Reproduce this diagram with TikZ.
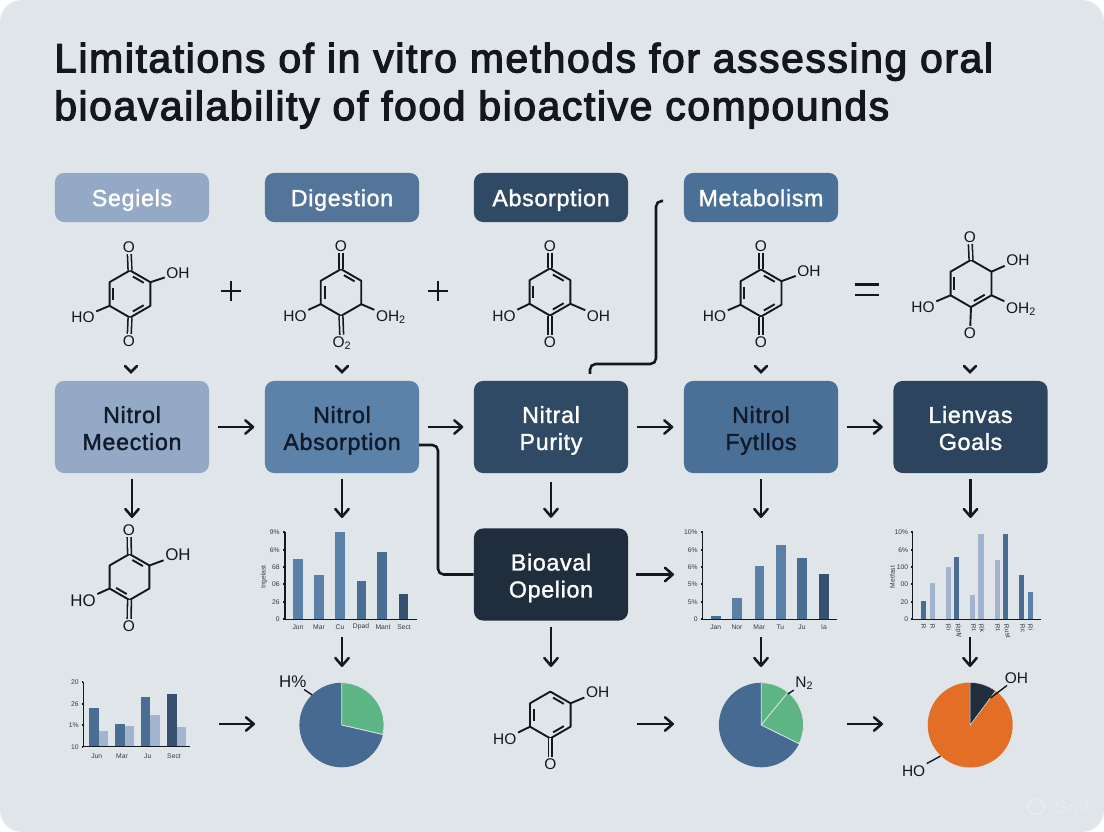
\documentclass[tikz,border=0pt]{standalone}
\usepackage{fontspec}
\setmainfont{Liberation Sans}
\newfontfamily\titlefont[FakeBold=3,LetterSpace=4]{Liberation Sans}
\newfontfamily\boxfont[FakeBold=1.5,LetterSpace=3]{Liberation Sans}
\usetikzlibrary{arrows.meta,calc}

\definecolor{bgc}{HTML}{E0E5E9}
\definecolor{inkc}{HTML}{14181C}
\definecolor{boxink}{HTML}{101A2A}
\definecolor{paleblue}{HTML}{93A9C6}
\definecolor{midblue}{HTML}{5C82AA}
\definecolor{steelblue}{HTML}{4B7098}
\definecolor{deepblue}{HTML}{304A66}
\definecolor{darknavy}{HTML}{1F2D3D}
\definecolor{barA}{HTML}{5A80A8}
\definecolor{barB}{HTML}{4A6D94}
\definecolor{barC}{HTML}{36516F}
\definecolor{barL}{HTML}{A3B4CE}
\definecolor{pieblue}{HTML}{466A92}
\definecolor{piegreen}{HTML}{5DB585}
\definecolor{pieorange}{HTML}{E36F26}
\definecolor{markc}{HTML}{E7EBEE}

\tikzset{
  boxlabel/.style={text=white, inner sep=0pt, align=center, rounded corners=0.225cm,
    minimum width=3.85cm, font=\boxfont\fontsize{16.5}{19.2}\selectfont},
  headbox/.style={boxlabel, minimum height=1.225cm,
    execute at begin node={\rule{0pt}{18pt}}, execute at end node={\rule[-5.76pt]{0pt}{0pt}}},
  mainbox/.style={boxlabel, minimum height=2.3cm},
  flow/.style={-{Straight Barb[round,length=5.5pt,width=9.5pt,line width=1.8pt]}, line width=1.8pt, color=inkc},
  flowbox/.style={flow, shorten <=0.225cm, shorten >=0.26cm},
  flowdown/.style={flow, shorten <=0.15cm},
  link/.style={line width=1.8pt, color=inkc, rounded corners=0.14cm},
  bond/.style={line width=1.35pt, color=inkc},
  carbonyl/.style={line width=1.1pt, color=inkc, double=bgc, double distance=1.6pt},
  atom/.style={text=inkc, inner sep=1pt, font=\fontsize{11}{13}\selectfont},
  chevron/.style={line width=1.8pt, color=inkc, line cap=round},
  axisline/.style={line width=0.8pt, color=inkc},
  tinytext/.style={text=inkc!85, inner sep=0pt, font=\fontsize{4.8}{5.4}\selectfont},
  leader/.style={line width=1pt, color=inkc},
}

\newcommand{\twolines}[2]{\rule{0pt}{17.5pt}#1\\#2\rule[-4pt]{0pt}{0pt}}
\newcommand{\hexring}[4]{%
  \foreach \n/\a in {t/-90,ur/-30,lr/30,b/90,ll/150,ul/210}
    \coordinate (#1\n) at ([shift={(\a:#4)}]#2,#3);
  \coordinate (#1c) at (#2,#3);
  \draw[bond,line join=round] (#1t) -- (#1ur) -- (#1lr) -- (#1b) -- (#1ll) -- (#1ul) -- cycle;
}
\newcommand{\innerbond}[3]{%
  \draw[bond] ($(#1#2)!0.22!(#1c)!0.14!(#1#3)$) -- ($(#1#3)!0.22!(#1c)!0.14!(#1#2)$);
}

\begin{document}
\begin{tikzpicture}[x=0.025cm, y=-0.025cm]
    \useasboundingbox (0,0) rectangle (1104,832);
    \fill[white] (0,0) rectangle (1104,832);
    \fill[bgc, rounded corners=0.55cm] (0,0) rectangle (1104,832);

    \node[anchor=north west, inner sep=0pt, text=inkc, align=left,
        font=\titlefont\fontsize{29}{34}\selectfont] (title) at (54,42.5)
        {Limitations of in vitro methods for assessing oral\\bioavailability of food bioactive compounds};

    % header row
    \node[headbox, fill=paleblue] (segiels) at (132,197.5) {Segiels};
    \node[headbox, fill=midblue!90!black] (digestion) at (342,197.5) {Digestion};
    \node[headbox, fill=deepblue] (absorption) at (551,197.5) {Absorption};
    \node[headbox, fill=steelblue] (metabolism) at (761,197.5) {Metabolism};

    % main row
    \node[mainbox, fill=paleblue, text=boxink] (boxa) at (132,427) {\twolines{Nitrol}{Meection}};
    \node[mainbox, fill=midblue, text=boxink] (boxb) at (342,427) {\twolines{Nitrol}{Absorption}};
    \node[mainbox, fill=deepblue] (boxc) at (551,427) {\twolines{Nitral}{Purity}};
    \node[mainbox, fill=steelblue, text=boxink] (boxd) at (761,427) {\twolines{Nitrol}{Fytllos}};
    \node[mainbox, fill=deepblue!92!black] (boxe) at (970.5,427) {\twolines{Lienvas}{Goals}};
    \node[mainbox, fill=darknavy] (bioaval) at (551,574.5) {\twolines{Bioaval}{Opelion}};

    % molecule 1
    \hexring{ma}{130}{294}{23.6}
    \innerbond{ma}{t}{ur} \innerbond{ma}{ul}{ll} \innerbond{ma}{b}{lr}
    \node[atom] (maotop) at (129,247) {O};
    \node[atom] (maobot) at (129,341) {O};
    \node[atom] (maoh) at (178,273) {OH};
    \node[atom] (maho) at (83,317) {HO};
    \draw[carbonyl] (mat) -- (maotop);
    \draw[carbonyl] (mab) -- (maobot);
    \draw[bond] (maur) -- (maoh);
    \draw[bond] (mall) -- (maho);

    % molecule 2
    \hexring{mb}{341}{292.5}{23.4}
    \innerbond{mb}{t}{ur} \innerbond{mb}{ul}{ll}
    \node[atom] (mbotop) at (341,246) {O};
    \node[atom] (mbobot) at (342,343) {O\textsubscript{2}};
    \node[atom] (mboh) at (391,317) {OH\textsubscript{2}};
    \node[atom] (mbho) at (295,316) {HO};
    \draw[carbonyl] (mbt) -- (mbotop);
    \draw[carbonyl] (mbb) -- (mbobot);
    \draw[bond] (mblr) -- (mboh);
    \draw[bond] (mbll) -- (mbho);

    % molecule 3
    \hexring{mc}{550}{292}{23.6}
    \innerbond{mc}{t}{ur} \innerbond{mc}{ul}{ll} \innerbond{mc}{b}{lr}
    \node[atom] (mcotop) at (550,246) {O};
    \node[atom] (mcobot) at (550,342) {O};
    \node[atom] (mcoh) at (598.5,316) {OH};
    \node[atom] (mcho) at (504,316) {HO};
    \draw[carbonyl] (mct) -- (mcotop);
    \draw[carbonyl] (mcb) -- (mcobot);
    \draw[bond] (mclr) -- (mcoh);
    \draw[bond] (mcll) -- (mcho);

    % molecule 4
    \hexring{md}{761}{293}{23.6}
    \innerbond{md}{t}{ur} \innerbond{md}{ul}{ll} \innerbond{md}{b}{lr}
    \node[atom] (mdotop) at (761,246) {O};
    \node[atom] (mdobot) at (761,342) {O};
    \node[atom] (mdoh) at (809,271) {OH};
    \node[atom] (mdho) at (714.5,316) {HO};
    \draw[carbonyl] (mdt) -- (mdotop);
    \draw[carbonyl] (mdb) -- (mdobot);
    \draw[bond] (mdur) -- (mdoh);
    \draw[bond] (mdll) -- (mdho);

    % molecule 5
    \hexring{me}{971}{283.5}{23.6}
    \innerbond{me}{ul}{ll} \innerbond{me}{b}{lr}
    \node[atom] (meotop) at (970,237) {O};
    \node[atom] (meobot) at (970,333) {O};
    \node[atom] (meoh) at (1018,260) {OH};
    \node[atom] (meoht) at (1021,309) {OH\textsubscript{2}};
    \node[atom] (meho) at (923,307) {HO};
    \draw[carbonyl] (met) -- (meotop);
    \draw[bond] (meb) -- (meobot);
    \draw[bond] (meur) -- (meoh);
    \draw[bond] (melr) -- (meoht);
    \draw[bond] (mell) -- (meho);

    % molecule 6
    \hexring{mf}{129.5}{577}{23}
    \innerbond{mf}{t}{ur} \innerbond{mf}{ll}{b}
    \node[atom] (mfotop) at (129,530) {O};
    \node[atom] (mfobot) at (129,626) {O};
    \node[atom, font=\fontsize{12}{14}\selectfont] (mfoh) at (178,555) {OH};
    \node[atom, font=\fontsize{12}{14}\selectfont] (mfho) at (83,600.5) {HO};
    \draw[carbonyl] (mft) -- (mfotop);
    \draw[carbonyl] (mfb) -- (mfobot);
    \draw[bond] (mfur) -- (mfoh);
    \draw[bond] (mfll) -- (mfho);

    % molecule 7
    \hexring{mg}{550.3}{715}{23.4}
    \innerbond{mg}{t}{ur} \innerbond{mg}{ul}{ll} \innerbond{mg}{b}{lr}
    \node[atom] (mgobot) at (550.3,764) {O};
    \node[atom] (mgoh) at (597.6,692) {OH};
    \node[atom] (mgho) at (504.8,739) {HO};
    \draw[carbonyl] (mgb) -- (mgobot);
    \draw[bond] (mgur) -- (mgoh);
    \draw[bond] (mgll) -- (mgho);

    % operators and chevrons
    \foreach \x in {231,438}
        \draw[line width=2.1pt, color=inkc] (\x-10,291) -- (\x+10,291) (\x,281) -- (\x,301);
    \foreach \y in {284.5,295}
        \draw[line width=2.1pt, color=inkc] (855,\y) -- (879,\y);
    \foreach \x in {131,342,761,970}
        \draw[chevron] (\x-6,366) -- (\x,372) -- (\x+6,366);

    % chart above the first pie
    \draw[axisline] (285,532) -- (285,619.3) -- (416.7,619.3);
    \foreach \y/\t in {532/9\%,550/6\%,567/68,584/06,602/26,619/0} {
        \draw[axisline] (283,\y) -- (285,\y);
        \node[tinytext, anchor=east] (ca\y) at (280,\y) {\t};
    }
    \foreach \x/\t/\c in {293.3/559/barA,314.3/575/barA,335.3/532/barA,356.7/581/barB,377.3/552/barB,398.7/594/barC}
        \fill[\c] (\x,\t) rectangle (\x+9.5,619);
    \foreach \x/\t in {298/Jun,319/Mar,340/Cu,361/Dpad,383/Mant,404/Sect}
        \node[tinytext] (ca\t) at (\x,627) {\t};
    \node[tinytext, rotate=90] (catitle) at (264,577) {Ingelast};

    % chart at the lower left
    \draw[axisline] (83.3,682) -- (83.3,746.7) -- (190,746.7);
    \foreach \y/\t in {682/20,704/26,725/1\%,747/10} {
        \draw[axisline] (81.5,\y) -- (83.3,\y);
        \node[tinytext, anchor=east] (cb\y) at (79,\y) {\t};
    }
    \foreach \x/\t/\c in {89/708/barB,115/724/barB,140.7/697.3/barB,167/693.7/barC}
        \fill[\c] (\x,\t) rectangle (\x+9.5,746);
    \foreach \x/\t in {98.5/731,124.7/726.3,150.2/715.3,176.5/726.7}
        \fill[barL] (\x,\t) rectangle (\x+9.5,746);
    \foreach \x/\t in {96.7/Jun,122/Mar,147.7/Ju,174/Sect}
        \node[tinytext] (cb\t) at (\x,756) {\t};

    % chart right of bioaval box
    \draw[axisline] (702.7,532) -- (702.7,619.3) -- (837,619.3);
    \foreach \y/\t in {532/10\%,550/6\%,567/6\%,584/5\%,602/5\%,619/0} {
        \draw[axisline] (701,\y) -- (702.7,\y);
        \node[tinytext, anchor=east] (cc\y) at (698,\y) {\t};
    }
    \foreach \x/\t/\c in {710.9/615.7/barB,732.3/598.3/barA,754.5/566.3/barA,776/545/barA,797.4/558/barB,818.9/574.3/barC}
        \fill[\c] (\x,\t) rectangle (\x+9.6,619);
    \foreach \x/\t in {715.7/Jan,737/Nor,759.3/Mar,780.4/Tu,802/Ju,824/Ia}
        \node[tinytext] (cc\t) at (\x,627) {\t};

    % chart at the right
    \draw[axisline] (912.9,532) -- (912.9,619.3) -- (1040.5,619.3);
    \foreach \y/\t in {532/10\%,550/6\%,567/100,584/00,602/20,619/0} {
        \draw[axisline] (911,\y) -- (912.9,\y);
        \node[tinytext, anchor=east] (cd\y) at (908.5,\y) {\t};
    }
    \foreach \x/\t/\c in {921/600.7/barB,930/583/barL,945.8/567.3/barL,953.9/557.3/barB,970.2/595.3/barL,978.3/534/barL,994.6/560.3/barL,1003.2/533.7/barB,1019/575/barB,1027.5/591.7/barA}
        \fill[\c] (\x,\t) rectangle (\x+5.2,619);
    \foreach \x/\t in {923/R,932/R,948/Ri,957/Rpty,973/Rt,981/Rk,997/Rt,1006/Rust,1022/Rc,1030/Ri}
        \node[tinytext, rotate=-80, anchor=west] (cd\x) at (\x,624) {\t};
    \node[tinytext, rotate=90] (cdtitle) at (892.5,577) {Metfast};

    % pies
    \coordinate (piea) at (341.7,725);
    \fill[pieblue] (piea) circle[radius=42.3];
    \filldraw[fill=piegreen, draw=bgc, line width=0.6pt] (piea) -- ++(-90:42.3) arc[start angle=-90, end angle=13, radius=42.3] -- cycle;
    \node[atom, font=\fontsize{12}{14}\selectfont] (pieatxt) at (292.7,682) {H\%};
    \coordinate (pieatip) at (312.3,695);
    \draw[leader] (pieatxt) -- (pieatip);

    \coordinate (pieb) at (761.2,725);
    \fill[pieblue] (pieb) circle[radius=42.3];
    \filldraw[fill=piegreen, draw=bgc, line width=0.6pt] (pieb) -- ++(-90:42.3) arc[start angle=-90, end angle=26.3, radius=42.3] -- cycle;
    \draw[bgc, line width=0.6pt] (pieb) -- ++(-50.8:42.3);
    \node[atom] (piebtxt) at (804.4,683.3) {N\textsubscript{2}};
    \coordinate (piebtip) at (787.8,694);
    \draw[leader] (piebtxt) -- (piebtip);

    \coordinate (piec) at (970.2,725);
    \fill[pieorange] (piec) circle[radius=42.5];
    \filldraw[fill=darknavy, draw=bgc, line width=0.4pt] (piec) -- ++(-90:42.5) arc[start angle=-90, end angle=-53.4, radius=42.5] -- cycle;
    \node[atom] (piecoh) at (1016.4,678.3) {OH};
    \coordinate (piectip) at (990.5,698);
    \draw[leader] (piecoh) -- (piectip);
    \node[atom] (picho) at (913.6,770.7) {HO};
    \coordinate (picho2) at (940.6,756);
    \draw[leader] (picho) -- (picho2);

    % free ends of the arrows
    \coordinate (enda) at (132,518);
    \coordinate (endb) at (342,518);
    \coordinate (endd) at (761,518);
    \coordinate (ende) at (970.5,518);
    \coordinate (starta) at (342,637);
    \coordinate (stopa) at (342,667);
    \coordinate (startc) at (761,637);
    \coordinate (stopc) at (761,667);
    \coordinate (startd) at (970,637);
    \coordinate (stopd) at (970,667);
    \coordinate (stopg) at (551,667);
    \coordinate (startr) at (674,574.5);
    \coordinate (leftin) at (219,724);
    \coordinate (leftout) at (255,724);
    \coordinate (midin) at (637,724);
    \coordinate (midout) at (674,724);
    \coordinate (rightin) at (847,724);
    \coordinate (rightout) at (883,724);

    % arrows
    \draw[flowbox] (boxa) -- (boxb);
    \draw[flowbox] (boxb) -- (boxc);
    \draw[flowbox] (boxc) -- (boxd);
    \draw[flowbox] (boxd) -- (boxe);
    \draw[flowbox] (boxc) -- (bioaval);
    \draw[flowdown] (boxa) -- (enda);
    \draw[flowdown] (boxb) -- (endb);
    \draw[flowdown] (boxd) -- (endd);
    \draw[flowdown] (boxe) -- (ende);
    \draw[flowdown] (bioaval) -- (stopg);
    \draw[flow, shorten <=0.2cm] (bioaval) -- (startr);
    \draw[flow] (starta) -- (stopa);
    \draw[flow] (startc) -- (stopc);
    \draw[flow] (startd) -- (stopd);
    \draw[flow] (leftin) -- (leftout);
    \draw[flow] (midin) -- (midout);
    \draw[flow] (rightin) -- (rightout);

    % routed links
    \coordinate (linkstart) at (419,445);
    \coordinate (linkbend) at (438,510);
    \draw[link] (linkstart) -| (linkbend) |- (bioaval.west);
    \coordinate (liftstart) at (590,374);
    \coordinate (liftmid) at (656,364);
    \coordinate (liftend) at (663,201);
    \draw[link] (liftstart) |- (liftmid) |- (liftend);

    % faint mark in the corner
    \node[text=markc, inner sep=0pt, font=\fontsize{13}{15}\selectfont] (grok) at (1074,806.5) {Grok};
    \draw[markc, line width=1.4pt] (1036,806.5) circle[radius=8];
\end{tikzpicture}
\end{document}
